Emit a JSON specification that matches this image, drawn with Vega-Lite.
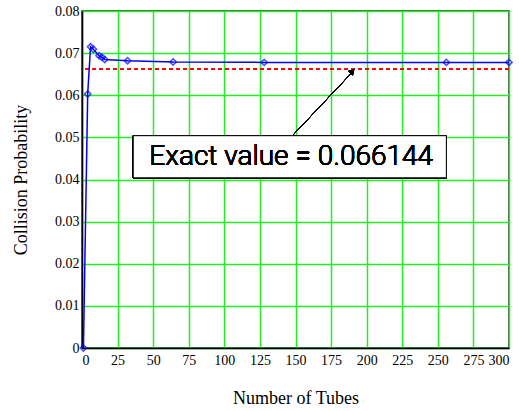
{
  "$schema": "https://vega.github.io/schema/vega-lite/v6.json",
  "width": 427,
  "height": 337,
  "autosize": {"type": "none"},
  "padding": {"left": 82, "top": 11, "right": 10, "bottom": 63},
  "background": "white",
  "config": {
    "view": {"stroke": "#222", "strokeWidth": 1.5},
    "font": "Liberation Serif"
  },
  "data": {
    "values": [
      {"tubes": 1, "p": 0.0},
      {"tubes": 4, "p": 0.0603},
      {"tubes": 6, "p": 0.0715},
      {"tubes": 8, "p": 0.0709},
      {"tubes": 12, "p": 0.0694},
      {"tubes": 14, "p": 0.0690},
      {"tubes": 16, "p": 0.0685},
      {"tubes": 32, "p": 0.0682},
      {"tubes": 64, "p": 0.0679},
      {"tubes": 128, "p": 0.0678},
      {"tubes": 256, "p": 0.0678},
      {"tubes": 300, "p": 0.0678}
    ]
  },
  "encoding": {
    "x": {
      "field": "tubes", "type": "quantitative",
      "scale": {"domain": [0, 300], "nice": false},
      "axis": {
        "values": [0, 25, 50, 75, 100, 125, 150, 175, 200, 225, 250, 275, 300],
        "title": "Number of Tubes", "titleFont": "Liberation Serif", "titleFontSize": 18, "titleFontWeight": "normal", "titleColor": "black", "titlePadding": 22,
        "labelFont": "Liberation Serif", "labelFontSize": 14, "labelColor": "black", "labelPadding": 5,
        "ticks": false, "domainColor": "black", "domainWidth": 1.5,
        "grid": true, "gridColor": "#22ee22", "gridWidth": 1.5
      }
    },
    "y": {
      "field": "p", "type": "quantitative",
      "scale": {"domain": [0, 0.08], "nice": false},
      "axis": {
        "values": [0, 0.01, 0.02, 0.03, 0.04, 0.05, 0.06, 0.07, 0.08],
        "labelExpr": "datum.value == 0 ? '0' : format(datum.value, '.2f')",
        "title": "Collision Probability", "titleFont": "Liberation Serif", "titleFontSize": 18, "titleFontWeight": "normal", "titleColor": "black", "titlePadding": 24,
        "labelFont": "Liberation Serif", "labelFontSize": 14, "labelColor": "black", "labelPadding": 3,
        "ticks": false, "domainColor": "black", "domainWidth": 1.5,
        "grid": true, "gridColor": "#22ee22", "gridWidth": 1.5
      }
    }
  },
  "layer": [
    {
      "mark": {"type": "rule", "color": "red", "strokeDash": [4, 3], "strokeWidth": 1.2},
      "encoding": {"y": {"datum": 0.066144}, "x": null}
    },
    {
      "mark": {"type": "line", "color": "blue", "strokeWidth": 1.5}
    },
    {
      "mark": {"type": "point", "shape": "diamond", "color": "blue", "filled": false, "size": 40, "strokeWidth": 1.5}
    },
    {
      "mark": {"type": "rule", "color": "black", "strokeWidth": 1},
      "encoding": {"x": {"datum": 147}, "y": {"datum": 0.0501}, "x2": {"datum": 190}, "y2": {"datum": 0.0655}}
    },
    {
      "mark": {"type": "point", "shape": "triangle-up", "filled": true, "color": "black", "size": 40, "angle": 43, "opacity": 1},
      "encoding": {"x": {"datum": 190}, "y": {"datum": 0.0657}}
    },
    {
      "mark": {"type": "rect", "fill": "white", "stroke": "black", "strokeWidth": 1},
      "encoding": {"x": {"datum": 36}, "x2": {"datum": 256}, "y": {"datum": 0.0504}, "y2": {"datum": 0.0404}}
    },
    {
      "mark": {"type": "text", "font": "Roboto", "fontSize": 28, "fontWeight": 300, "fill": "black", "align": "center", "baseline": "middle"},
      "encoding": {"x": {"datum": 147}, "y": {"datum": 0.0453}, "text": {"value": "Exact value = 0.066144"}}
    }
  ]
}
